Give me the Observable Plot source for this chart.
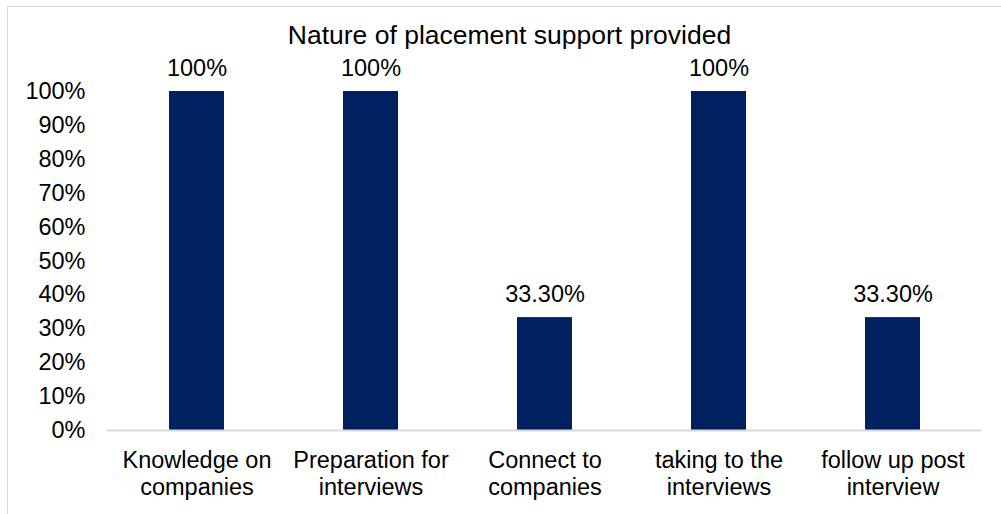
<!DOCTYPE html>
<html>
<head>
<meta charset="utf-8">
<script src="https://cdn.jsdelivr.net/npm/d3@7"></script>
<script src="https://cdn.jsdelivr.net/npm/@observablehq/plot@0.6"></script>
<style>
  html, body { margin: 0; padding: 0; background: #fff; overflow: hidden; }
  #wrap { position: relative; width: 1001px; height: 514px; }
  #border { position: absolute; left: 7px; top: 6px; width: 1100px; height: 700px; border: 1px solid #d9d9d9; box-sizing: border-box; }
  #chart { position: absolute; left: 0; top: 0; }
</style>
</head>
<body>
<div id="wrap"><div id="border"></div><div id="chart"></div></div>
<script>
const categories = [
  "Knowledge on\ncompanies",
  "Preparation for\ninterviews",
  "Connect to\ncompanies",
  "taking to the\ninterviews",
  "follow up post\ninterview"
];
const values = [1.0, 1.0, 0.333, 1.0, 0.333];
const valueLabels = ["100%", "100%", "33.30%", "100%", "33.30%"];
const yTicks = [0, 0.1, 0.2, 0.3, 0.4, 0.5, 0.6, 0.7, 0.8, 0.9, 1.0];
const title = "Nature of placement support provided";

const data = categories.map((c, i) => ({cat: c, value: values[i], label: valueLabels[i]}));

const font = "Liberation Sans, Arial, sans-serif";
const fs = 23.5;

const chart = Plot.plot({
  width: 1001,
  height: 514,
  marginLeft: 107,
  marginRight: 20,
  marginTop: 91,
  marginBottom: 84,
  style: {fontFamily: font, fontSize: fs + "px", color: "#000", background: "transparent"},
  x: {domain: categories, paddingInner: 0.686, paddingOuter: 0.343, label: null},
  y: {domain: [0, 1], label: null},
  marks: [
    Plot.barY(data, {x: "cat", y: "value", fill: "#002060"}),
    Plot.ruleY([0], {stroke: "#d9d9d9", strokeWidth: 2}),
    Plot.axisY({ticks: yTicks, tickFormat: d => Math.round(d * 100) + "%", tickSize: 0, tickPadding: 22, fontSize: fs, fill: "#000", label: null}),
    Plot.axisX({tickSize: 0, tickPadding: 18, fontSize: fs, lineHeight: 1.15, fill: "#000", label: null}),
    Plot.text(data, {x: "cat", y: "value", text: "label", dy: -23, fontSize: fs, fill: "#000"}),
    Plot.text([title], {frameAnchor: "top", lineAnchor: "middle", dx: -35, dy: -56, fontSize: 26.5, fill: "#000"})
  ]
});
document.getElementById("chart").appendChild(chart);
</script>
</body>
</html>
